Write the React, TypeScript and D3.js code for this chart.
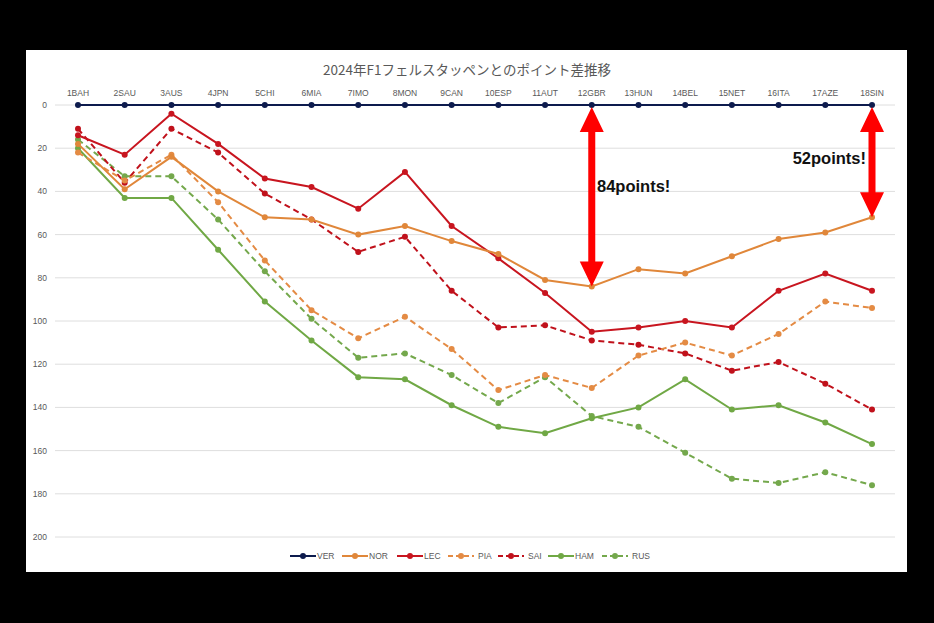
import React from "react";
import * as d3 from "d3";

const races = ["1BAH","2SAU","3AUS","4JPN","5CHI","6MIA","7IMO","8MON","9CAN","10ESP","11AUT","12GBR","13HUN","14BEL","15NET","16ITA","17AZE","18SIN"];
const VER = [0,0,0,0,0,0,0,0,0,0,0,0,0,0,0,0,0,0];
const NOR = [18,39,24,40,52,53,60,56,63,69,81,84,76,78,70,62,59,52];
const LEC = [14,23,4,18,34,38,48,31,56,71,87,105,103,100,103,86,78,86];
const PIA = [22,35,23,45,72,95,108,98,113,132,125,131,116,110,116,106,91,94];
const SAI = [11,36,11,22,41,53,68,61,86,103,102,109,111,115,123,119,129,141];
const HAM = [20,43,43,67,91,109,126,127,139,149,152,145,140,127,141,139,147,157];
const RUS = [16,33,33,53,77,99,117,115,125,138,126,144,149,161,173,175,170,176];
const yTicks = [0,20,40,60,80,100,120,140,160,180,200];
const title = "2024年F1フェルスタッペンとのポイント差推移";
const annotations = [
  { race: "12GBR", value: 84, label: "84points!" },
  { race: "18SIN", value: 52, label: "52points!" },
];

const series = [
  { name: "VER", data: VER, color: "#0d1b4d", dash: "" },
  { name: "NOR", data: NOR, color: "#e0873a", dash: "" },
  { name: "LEC", data: LEC, color: "#c8151f", dash: "" },
  { name: "PIA", data: PIA, color: "#e48b44", dash: "6,4" },
  { name: "SAI", data: SAI, color: "#c0111b", dash: "6,4" },
  { name: "HAM", data: HAM, color: "#70a845", dash: "" },
  { name: "RUS", data: RUS, color: "#74a84c", dash: "6,4" },
];

export default function App() {
  const W = 934, H = 623;
  const x = d3.scalePoint<string>().domain(races).range([78, 872]);
  const y = d3.scaleLinear().domain([0, 200]).range([105, 537]);
  const line = d3.line<number>().x((_, i) => x(races[i])!).y((d) => y(d));
  const font = "'Liberation Sans', Arial, sans-serif";
  const cjk = "'Noto Sans CJK JP', 'Noto Sans', sans-serif";

  const legendX = [290, 342, 397, 448, 498, 548, 602];

  const arrow = (cx: number, y0: number, y1: number, key: string) => {
    const hw = 12, hh = 25, sw = 3.5;
    const d = `M${cx},${y0} L${cx + hw},${y0 + hh} L${cx + sw},${y0 + hh} L${cx + sw},${y1 - hh} L${cx + hw},${y1 - hh} L${cx},${y1} L${cx - hw},${y1 - hh} L${cx - sw},${y1 - hh} L${cx - sw},${y0 + hh} L${cx - hw},${y0 + hh} Z`;
    return <path key={key} d={d} fill="#ff0000" />;
  };

  return (
    <svg width={W} height={H} style={{ position: "absolute", left: 0, top: 0 }}>
      <rect x={0} y={0} width={W} height={H} fill="#000" />
      <rect x={26} y={50} width={881} height={522} fill="#fff" />
      <text x={467} y={75} textAnchor="middle" fontFamily={cjk} fontSize={13.5} fill="#595959">{title}</text>
      {yTicks.map((t) => (
        <g key={t}>
          <line x1={55} x2={895} y1={y(t)} y2={y(t)} stroke="#dedede" strokeWidth={1} />
          <text x={47} y={y(t) + 3} textAnchor="end" fontFamily={font} fontSize={8.5} fill="#595959">{t}</text>
        </g>
      ))}
      {races.map((r) => (
        <text key={r} x={x(r)} y={96} textAnchor="middle" fontFamily={font} fontSize={8.5} fill="#595959">{r}</text>
      ))}
      {series.slice().reverse().map((s) => (
        <g key={s.name}>
          <path d={line(s.data)!} fill="none" stroke={s.color} strokeWidth={2} strokeDasharray={s.dash || undefined} />
          {s.data.map((v, i) => (
            <circle key={i} cx={x(races[i])} cy={y(v)} r={3} fill={s.color} />
          ))}
        </g>
      ))}
      {annotations.map((a) => arrow(x(a.race)!, y(0) + 2, y(a.value), a.race))}
      <text x={597} y={192} fontFamily={font} fontWeight="bold" fontSize={16.5} fill="#111">{annotations[0].label}</text>
      <text x={866} y={164} textAnchor="end" fontFamily={font} fontWeight="bold" fontSize={16.5} fill="#111">{annotations[1].label}</text>
      {series.map((s, i) => (
        <g key={s.name} transform={`translate(${legendX[i]},556)`}>
          <line x1={0} x2={26} y1={0} y2={0} stroke={s.color} strokeWidth={2} strokeDasharray={s.dash ? "5,3" : undefined} />
          <circle cx={13} cy={0} r={3} fill={s.color} />
          <text x={s.dash ? 30 : 27} y={3} fontFamily={font} fontSize={8.5} fill="#595959">{s.name}</text>
        </g>
      ))}
    </svg>
  );
}
